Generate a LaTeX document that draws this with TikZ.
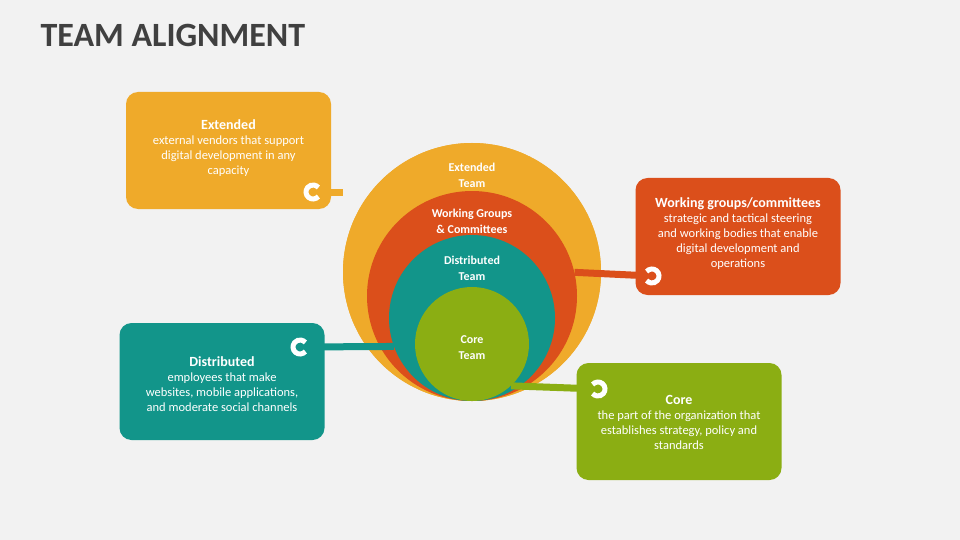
\documentclass[tikz,border=0pt]{standalone}
\usepackage{fontspec}
\setmainfont{Carlito}
\definecolor{cY}{HTML}{EFAA2A}
\definecolor{cO}{HTML}{DB4F1B}
\definecolor{cT}{HTML}{12958A}
\definecolor{cG}{HTML}{8BAE13}
\definecolor{bg}{HTML}{F2F2F2}
\definecolor{ttl}{HTML}{404040}
\begin{document}
\begin{tikzpicture}[x=1pt,y=-1pt,
  box/.style={fill=#1,rounded corners=12pt,minimum width=205pt,minimum height=117pt,inner sep=0pt},
  btxt/.style={text=white,align=center,font=\fontsize{12.5}{15}\selectfont},
  circ/.style={circle,fill=#1,inner sep=0pt},
  ctxt/.style={text=white,align=center,font=\bfseries\fontsize{12}{16}\selectfont},
  conn/.style={line width=7pt,draw=#1},
  ring/.style={line width=5pt,draw=white}]
\fill[bg] (0,0) rectangle (960,540);
\node[anchor=west,text=ttl,font=\bfseries\fontsize{34}{34}\selectfont] (title) at (37,35) {TEAM ALIGNMENT};
% boxes
\node[box=cY] (bE) at (228.5,150.5) {};
\node[box=cO] (bW) at (738,236.5) {};
\node[box=cT] (bD) at (222,381.5) {};
\node[box=cG] (bC) at (679,421.5) {};
\node[btxt] (tE) at (228.5,148) {\textbf{\fontsize{14}{15}\selectfont Extended}\\external vendors that support\\digital development in any\\capacity};
\node[btxt] (tW) at (738,234) {\textbf{\fontsize{14}{15}\selectfont Working groups/committees}\\strategic and tactical steering\\and working bodies that enable\\digital development and\\operations};
\node[btxt] (tD) at (222,384) {\textbf{\fontsize{14}{15}\selectfont Distributed}\\employees that make\\websites, mobile applications,\\and moderate social channels};
\node[btxt] (tC) at (679,422) {\textbf{\fontsize{14}{15}\selectfont Core}\\the part of the organization that\\establishes strategy, policy and\\standards};
% ring coordinates
\coordinate (rE) at (313,192);
\coordinate (rW) at (652,276);
\coordinate (rD) at (300,347);
\coordinate (rC) at (598,389);
% circles
\node[circ=cY,minimum size=258pt] (c1) at (472,272) {};
\draw[conn=cY] (rE) -- (rE -| c1.west);
\node[circ=cY,minimum size=258pt] (c1b) at (472,272) {};
\node[circ=cO,minimum size=210pt] (c2) at (472,296) {};
\node[circ=cT,minimum size=166pt] (c3) at (472,318) {};
\node[circ=cG,minimum size=114pt] (c4) at (472,344) {};
\node[ctxt] (l1) at (472,175) {Extended\\Team};
\node[ctxt] (l2) at (472,221) {Working Groups\\\& Committees};
\node[ctxt] (l3) at (472,268) {Distributed\\Team};
\node[ctxt] (l4) at (472,348) {Core\\Team};
% connectors
\draw[conn=cO] (c2.13) -- (rW);
\draw[conn=cT] (c3.200) -- (rD);
\draw[conn=cG] (c4.-47) -- (rC);
% rings
\draw[ring] (rE) ++(40:7) arc[start angle=40,end angle=320,radius=7];
\draw[ring] (rD) ++(40:7) arc[start angle=40,end angle=320,radius=7];
\draw[ring] (rW) ++(220:7) arc[start angle=220,end angle=500,radius=7];
\draw[ring] (rC) ++(220:7) arc[start angle=220,end angle=500,radius=7];
\end{tikzpicture}
\end{document}
